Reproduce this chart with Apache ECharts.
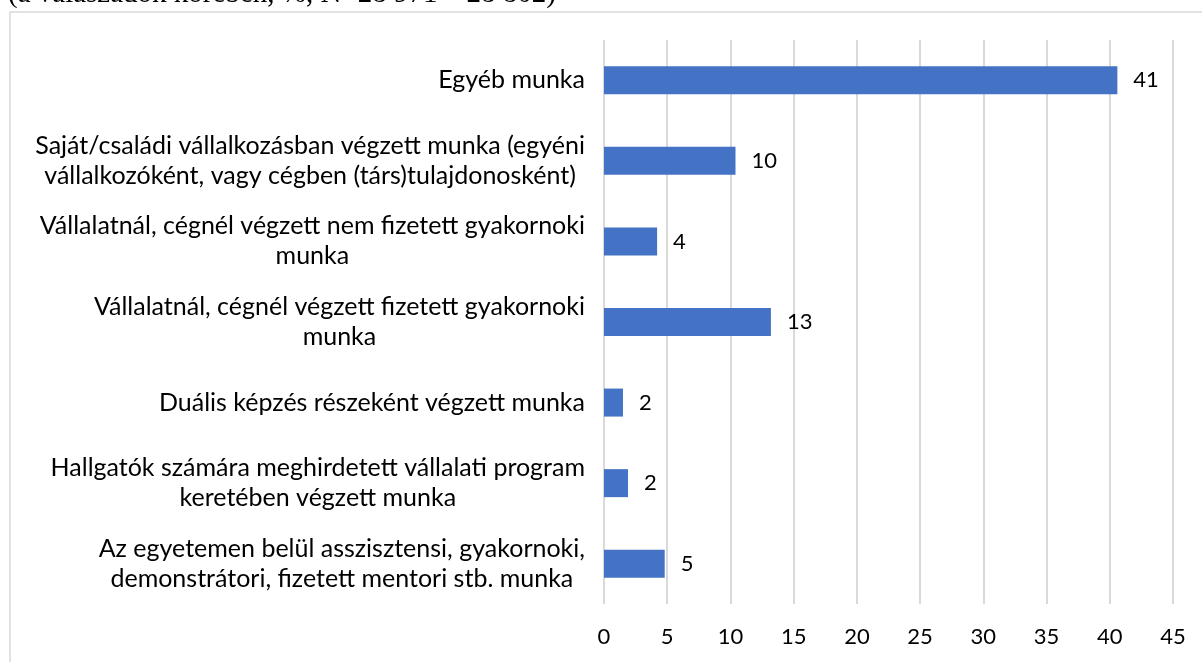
<!DOCTYPE html>
<html>
<head>
<meta charset="utf-8">
<script src="https://cdn.jsdelivr.net/npm/echarts@6/dist/echarts.min.js"></script>
<style>
  html, body { margin: 0; padding: 0; background: #fff; }
  #main { width: 1202px; height: 662px; }
</style>
</head>
<body>
<div id="main"></div>
<script>
// kategóriák felülről lefelé
const categories = [
  "Egyéb munka",
  "Saját/családi vállalkozásban végzett munka (egyéni\nvállalkozóként, vagy cégben (társ)tulajdonosként)",
  "Vállalatnál, cégnél végzett nem fizetett gyakornoki\nmunka",
  "Vállalatnál, cégnél végzett fizetett gyakornoki\nmunka",
  "Duális képzés részeként végzett munka",
  "Hallgatók számára meghirdetett vállalati program\nkeretében végzett munka",
  "Az egyetemen belül asszisztensi, gyakornoki,\ndemonstrátori, fizetett mentori stb. munka"
];
// százalékok (a címkék kerekítve)
const values = [40.6, 10.4, 4.2, 13.2, 1.5, 1.9, 4.8];
const subtitle = "(a válaszadók körében, %, N=28 971 – 28 802)";

const chart = echarts.init(document.getElementById("main"));

const option = {
  animation: false,
  backgroundColor: "#fff",
  textStyle: { fontFamily: "Lato" },
  graphic: [
    {
      type: "rect",
      shape: { x: 10, y: 12, width: 1400, height: 900 },
      style: { fill: "none", stroke: "#d9d9d9", lineWidth: 1.5 },
      z: -1
    },
    {
      type: "text",
      x: 8,
      y: -6,
      style: {
        text: subtitle,
        font: "29px 'Liberation Serif'",
        fill: "#000",
        verticalAlign: "middle"
      }
    }
  ],
  grid: {
    left: 604,
    right: 29,
    top: 40,
    bottom: 58,
    containLabel: false,
    outerBoundsMode: "none"
  },
  xAxis: {
    type: "value",
    min: 0,
    max: 45,
    interval: 5,
    axisLine: { show: false },
    axisTick: { show: false },
    axisLabel: { fontSize: 22, color: "#000", margin: 22, fontFamily: "Lato" },
    splitLine: { lineStyle: { color: "#d9d9d9", width: 2 } }
  },
  yAxis: {
    type: "category",
    inverse: true,
    data: categories,
    axisLine: { show: false },
    axisTick: { show: false },
    axisLabel: {
      margin: 19,
      formatter: function (v) {
        return v.split("\n").map(function (l) { return "{c|" + l + "}"; }).join("\n");
      },
      rich: {
        c: { align: "center", fontSize: 25, lineHeight: 30, color: "#000", fontFamily: "Lato" }
      }
    }
  },
  series: [
    {
      type: "bar",
      data: values,
      barWidth: 28,
      itemStyle: { color: "#4472c4" },
      label: {
        show: true,
        position: "right",
        distance: 16,
        fontSize: 22,
        color: "#000",
        fontFamily: "Lato",
        formatter: function (p) { return Math.round(p.value); }
      }
    }
  ]
};

chart.setOption(option);
</script>
</body>
</html>
